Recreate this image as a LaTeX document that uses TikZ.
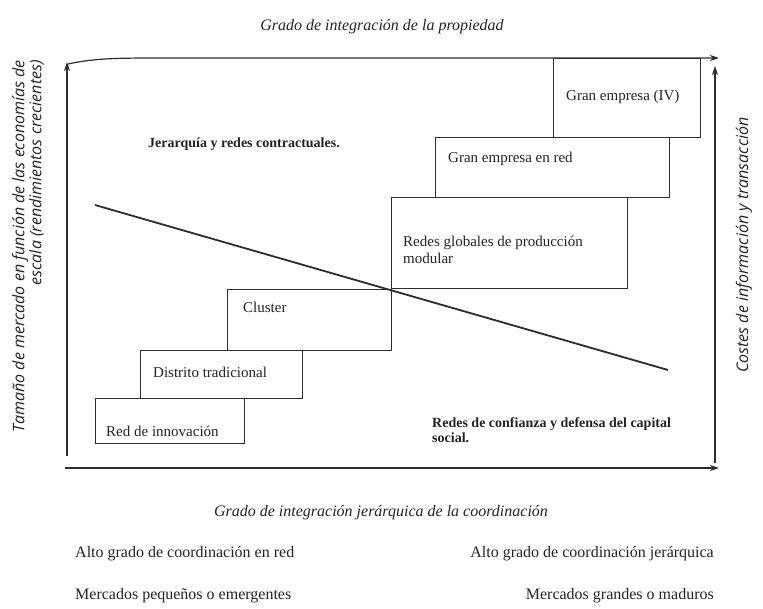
\documentclass[tikz,border=0pt]{standalone}
\usepackage{fontspec}
\setmainfont{Liberation Serif}
\newfontfamily\sidefont{Open Sans}
\usetikzlibrary{arrows.meta,positioning}
\definecolor{inkgray}{HTML}{222222}
\definecolor{linegray}{HTML}{2C2C2C}

\begin{document}
\begin{tikzpicture}[x=1pt,y=-1pt,
  every node/.style={text=inkgray,inner sep=0pt},
  stagebox/.style={draw=linegray,line width=1.2pt,anchor=north west},
  stagetext/.style={font=\fontsize{15}{17}\selectfont,anchor=base west,align=left},
  zonetext/.style={font=\fontsize{14}{15}\selectfont\bfseries,align=left},
  axistitle/.style={font=\fontsize{16}{18}\selectfont\itshape},
  sidetitle/.style={font=\sidefont\fontsize{16}{15}\selectfont\itshape,rotate=90},
  rowtext/.style={font=\fontsize{16}{18}\selectfont,anchor=base},
  axisarrow/.style={draw=linegray,line width=1.2pt,-{Stealth[length=9pt,width=6pt]}}]
  \useasboundingbox (0,0) rectangle (763,608);

  \node[stagebox,minimum width=149pt,minimum height=45pt] (innov) at (95,398) {};
  \node[stagebox,minimum width=162pt,minimum height=48pt] (distrito) at (140,350) {};
  \node[stagebox,minimum width=164pt,minimum height=61pt] (cluster) at (227,289) {};
  \node[stagebox,minimum width=236pt,minimum height=91pt] (globales) at (391,197) {};
  \node[stagebox,minimum width=234pt,minimum height=60pt] (granred) at (435,137) {};
  \node[stagebox,minimum width=147pt,minimum height=79pt] (grancuatro) at (553,58) {};

  \node[stagetext] (innovlbl) at (106,436) {Red de innovación};
  \node[stagetext] (distritolbl) at (153,377) {Distrito tradicional};
  \node[stagetext] (clusterlbl) at (243,312) {Cluster};
  \node[stagetext,anchor=west] (globaleslbl) at (403,250) {Redes globales de producción\\modular};
  \node[stagetext] (granredlbl) at (448,162) {Gran empresa en red};
  \node[stagetext] (grancuatrolbl) at (566,100) {Gran empresa (IV)};

  \node[zonetext,anchor=base west] (jerarquia) at (148,147) {Jerarquía y redes contractuales.};
  \node[zonetext,anchor=west] (confianza) at (432,430) {Redes de confianza y defensa del capital\\social.};

  \coordinate (topstart) at (68,64);
  \coordinate (topend) at (719,58);
  \coordinate (botstart) at (65,468);
  \coordinate (botend) at (719,468);
  \coordinate (leftfoot) at (67,456);
  \coordinate (lefthead) at (67,62);
  \coordinate (rightfoot) at (715,463);
  \coordinate (righthead) at (715,66);
  \coordinate (trendstart) at (95,205);
  \coordinate (trendend) at (668,370);

  \draw[axisarrow] (topstart) .. controls (95,58) and (120,58) .. (165,58) -- (topend);
  \draw[axisarrow] (botstart) -- (botend);
  \draw[axisarrow] (leftfoot) -- (lefthead);
  \draw[axisarrow] (rightfoot) -- (righthead);
  \draw[linegray,line width=1.8pt] (trendstart) -- (trendend);

  \node[axistitle] (propiedad) at (382,27) {Grado de integración de la propiedad};
  \node[axistitle] (coordinacion) at (381,513) {Grado de integración jerárquica de la coordinación};
  \node[sidetitle,align=right,anchor=east] (mercado) at (28,60)
    {Tamaño de mercado en función de las economías de\\escala (rendimientos crecientes)};
  \node[sidetitle] (costes) at (744,245) {Costes de información y transacción};

  \node[rowtext,anchor=base west] (redalto) at (75,557) {Alto grado de coordinación en red};
  \node[rowtext,anchor=base east] (jeraralto) at (714,557) {Alto grado de coordinación jerárquica};
  \node[rowtext,anchor=base west] (pequenos) at (75,599) {Mercados pequeños o emergentes};
  \node[rowtext,anchor=base east] (grandes) at (714,599) {Mercados grandes o maduros};
\end{tikzpicture}
\end{document}
